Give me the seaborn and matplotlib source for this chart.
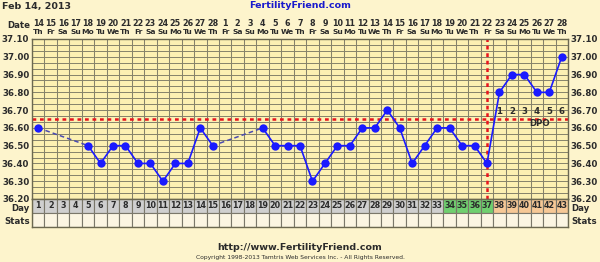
import numpy as np
import pandas as pd
import matplotlib
matplotlib.use("Agg")
import matplotlib.pyplot as plt
import seaborn as sns

# ---------------- data ----------------
cycle_days = list(range(1, 44))
date_labels = [str(d) for d in range(14, 29)] + [str(d) for d in range(1, 29)]
dow_labels = (["Th", "Fr", "Sa", "Su", "Mo", "Tu", "We"] * 7)[:43]
temps = [36.60, None, None, None, 36.50, 36.40, 36.50, 36.50, 36.40, 36.40,
         36.30, 36.40, 36.40, 36.60, 36.50, None, None, None, 36.60, 36.50,
         36.50, 36.50, 36.30, 36.40, 36.50, 36.50, 36.60, 36.60, 36.70, 36.60,
         36.40, 36.50, 36.60, 36.60, 36.50, 36.50, 36.40, 36.80, 36.90, 36.90,
         36.80, 36.80, 37.00]
coverline = 36.65
ovulation_day = 37
fertile_days = [34, 35, 36, 37]
dpo_days = [38, 39, 40, 41, 42, 43]
dpo_labels = ["1", "2", "3", "4", "5", "6"]
y_ticks = [37.10, 37.00, 36.90, 36.80, 36.70, 36.60, 36.50, 36.40, 36.30, 36.20]

# ---------------- style ----------------
sns.set_theme(style="white")
plt.rcParams["font.family"] = ["DejaVu Sans"]
W, H = 600, 262
BG = "#FDF4CC"
PLOT_BG = "#FCF0B2"
GRID = "#85826a"
TXT = "#2b2b2b"
BLUE = "#1a1aff"

fig = plt.figure(figsize=(W / 100, H / 100), dpi=100, facecolor=BG)


def fx(px):
    return px / W


def fy(py):
    return 1 - py / H


# main axes: pixels x 32..568, y 39..199
L, R, T, B = 32, 568, 39, 199
ax = fig.add_axes([fx(L), fy(B), fx(R - L), (B - T) / H])
ax.set_facecolor(PLOT_BG)
ax.set_xlim(0.5, 43.5)
ax.set_ylim(36.20, 37.10)

# grid
for xv in np.arange(0.5, 44, 1.0):
    ax.axvline(xv, color=GRID, lw=0.75, zorder=1)
for yv in np.linspace(36.20, 37.10, 28):
    ax.axhline(yv, color=GRID, lw=0.7, zorder=1)

# data frame
df = pd.DataFrame({"day": cycle_days, "temp": temps})
present = df.dropna().copy()
present["seg"] = (present["day"].diff() != 1).cumsum()

# dashed connections across gaps
gap_rows = []
prev = None
gid = 0
for _, r in present.iterrows():
    if prev is not None and r["day"] - prev["day"] > 1:
        gid += 1
        gap_rows.append({"day": prev["day"], "temp": prev["temp"], "g": gid})
        gap_rows.append({"day": r["day"], "temp": r["temp"], "g": gid})
    prev = r
gaps = pd.DataFrame(gap_rows)
if len(gaps):
    sns.lineplot(data=gaps, x="day", y="temp", units="g", estimator=None,
                 ax=ax, color="#4a4ab0", lw=1.1, linestyle=(0, (3, 2)),
                 zorder=3, legend=False)

sns.lineplot(data=present, x="day", y="temp", units="seg", estimator=None,
             ax=ax, color=BLUE, lw=1.2, zorder=4, legend=False)
sns.scatterplot(data=present, x="day", y="temp", ax=ax, color=BLUE, s=36,
                edgecolor=BLUE, linewidth=0, zorder=5, legend=False)

# coverline & ovulation line
ax.axhline(coverline, color="#e8141c", lw=1.8, linestyle=(0, (1.5, 1.5)), zorder=2.5)
ax.axvline(ovulation_day, color="#e8141c", lw=1.8, linestyle=(0, (1.5, 1.5)), zorder=2.5)

# DPO labels
for d, lab in zip(dpo_days, dpo_labels):
    ax.text(d, 36.69, lab, ha="center", va="center", fontsize=6.2,
            fontweight="bold", color=TXT, zorder=6)
ax.text(41.2, 36.623, "DPO", ha="center", va="center", fontsize=6.2,
        fontweight="bold", color=TXT, zorder=6)

ax.set_xticks([])
ax.set_yticks(y_ticks)
ax.set_yticklabels([f"{v:.2f}" for v in y_ticks])
ax.tick_params(axis="y", length=0, pad=2, labelsize=6.2, labelcolor=TXT,
               left=True, right=True, labelleft=True, labelright=True)
for lbl in ax.get_yticklabels():
    lbl.set_fontweight("bold")
ax.set_xlabel("")
ax.set_ylabel("")
for s in ax.spines.values():
    s.set_color("#6b6850")
    s.set_linewidth(1.0)

# Day / Stats rows: pixels y 199..227
ax2 = fig.add_axes([fx(L), fy(227), fx(R - L), 28 / H])
ax2.set_xlim(0.5, 43.5)
ax2.set_ylim(0, 2)
cell_colors = []
for d in cycle_days:
    if d in fertile_days:
        cell_colors.append("#6fcf6f")
    elif d in dpo_days:
        cell_colors.append("#f6c896")
    else:
        cell_colors.append("#cfcfcf")
ax2.bar(cycle_days, [1] * 43, bottom=1, width=1.0, color=cell_colors,
        edgecolor="#7a776a", linewidth=0.8)
ax2.bar(cycle_days, [1] * 43, bottom=0, width=1.0, color="#fbf5e2",
        edgecolor="#7a776a", linewidth=0.8)
for d in cycle_days:
    ax2.text(d, 1.5, str(d), ha="center", va="center", fontsize=5.8,
             fontweight="bold", color=TXT)
ax2.set_xticks([])
ax2.set_yticks([])
for s in ax2.spines.values():
    s.set_color("#6b6850")
    s.set_linewidth(1.0)

# row labels
for txt, py in (("Day", 208.5), ("Stats", 221.5)):
    fig.text(fx(30), fy(py), txt, ha="right", va="center", fontsize=6.2,
             fontweight="bold", color=TXT)
    fig.text(fx(571), fy(py), txt, ha="left", va="center", fontsize=6.2,
             fontweight="bold", color=TXT)

# header date rows
fig.text(fx(30), fy(26), "Date", ha="right", va="center", fontsize=6.2,
         fontweight="bold", color=TXT)
for i, d in enumerate(cycle_days):
    xpx = L + (d - 0.5) * (R - L) / 43
    fig.text(fx(xpx), fy(23), date_labels[i], ha="center", va="center",
             fontsize=5.8, fontweight="bold", color=TXT)
    fig.text(fx(xpx), fy(32), dow_labels[i], ha="center", va="center",
             fontsize=5.4, fontweight="bold", color=TXT)

# titles
fig.text(fx(2), fy(6), "Feb 14, 2013", ha="left", va="center", fontsize=6.8,
         fontweight="bold", color=TXT)
fig.text(fx(300), fy(6), "FertilityFriend.com", ha="center", va="center",
         fontsize=6.8, fontweight="bold", color="#1a1acc")

# footer
fig.text(fx(300), fy(248), "http://www.FertilityFriend.com", ha="center",
         va="center", fontsize=6.8, fontweight="bold", color=TXT)
fig.text(fx(300), fy(257), "Copyright 1998-2013 Tamtris Web Services Inc. - All Rights Reserved.",
         ha="center", va="center", fontsize=4.3, color=TXT)

fig.savefig("out.png", dpi=100, facecolor=BG)
